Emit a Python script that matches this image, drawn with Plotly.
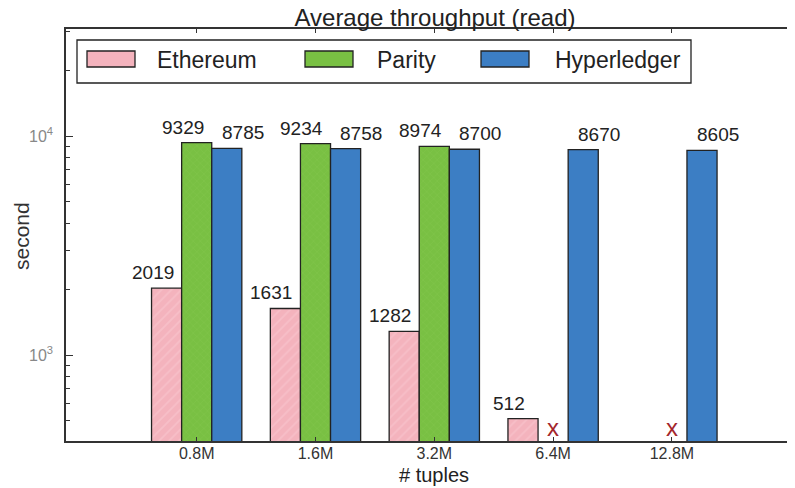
import numpy as np
import plotly.graph_objects as go

categories = ["0.8M", "1.6M", "3.2M", "6.4M", "12.8M"]
ethereum = [2019, 1631, 1282, 512, None]
parity = [9329, 9234, 8974, None, None]
hyperledger = [8785, 8758, 8700, 8670, 8605]
failed_parity = ["6.4M", "12.8M"]
series_names = ["Ethereum", "Parity", "Hyperledger"]
colors = ["#f4b3bd", "#79c043", "#3c7ec4"]
y_range_vals = [405, 30800]

OFF = 8  # page body margin
W, H = 795 - OFF, 488 - OFF
L, R, T, B = 66 - OFF, 0, 29 - OFF, 488 - 441
PW, PH = W - L - R, H - T - B

def px_x(px):
    return (px - OFF - L) / PW

def px_y(py):
    return (H - B - (py - OFF)) / PH

FONT = "Liberation Sans, Arial"
fig = go.Figure()
patterns = [
    dict(shape="/", fgcolor="#f9cad2", size=7, solidity=0.25),
    dict(shape="x", fgcolor="#8fcc5c", size=5, solidity=0.15),
    dict(shape=""),
]
for name, vals, col, pat in zip(series_names, [ethereum, parity, hyperledger], colors, patterns):
    fig.add_trace(go.Bar(
        x=categories, y=vals, name=name,
        marker=dict(color=col, line=dict(color="#222", width=1.3), pattern=pat),
        showlegend=False,
    ))

# value labels
shifts = [-44, -14, 46]
for vals, xs in zip([ethereum, parity, hyperledger], shifts):
    for c, v in zip(categories, vals):
        if v is None:
            continue
        fig.add_annotation(x=c, y=np.log10(v), text=str(v), showarrow=False,
                           xshift=xs, yshift=3, yanchor="bottom",
                           font=dict(size=19, color="#222", family=FONT))

# failure markers
for c in failed_parity:
    fig.add_annotation(x=c, y=np.log10(y_range_vals[0]), text="x", showarrow=False,
                       yanchor="bottom", yshift=-2,
                       font=dict(size=24, color="#a3262c", family=FONT))

# custom legend
fig.add_shape(type="rect", xref="paper", yref="paper",
              x0=px_x(77), x1=px_x(691), y0=px_y(83), y1=px_y(40),
              line=dict(color="#222", width=1.3), fillcolor="white", layer="above")
sw_x = [87, 305, 481]
tx_x = [155, 375, 553]
for name, col, sx, tx in zip(series_names, colors, sw_x, tx_x):
    fig.add_shape(type="rect", xref="paper", yref="paper",
                  x0=px_x(sx), x1=px_x(sx + 48), y0=px_y(67), y1=px_y(51),
                  line=dict(color="#222", width=1.3), fillcolor=col, layer="above")
    fig.add_annotation(xref="paper", yref="paper", x=px_x(tx), y=px_y(60), text=name,
                       showarrow=False, xanchor="left", yanchor="middle",
                       font=dict(size=23, color="#222", family=FONT))

# axis titles
fig.add_annotation(xref="paper", yref="paper", x=px_x(21), y=px_y(236), text="second",
                   textangle=-90, showarrow=False, xanchor="center", yanchor="middle",
                   font=dict(size=21, color="#333", family=FONT))
fig.add_annotation(xref="paper", yref="paper", x=px_x(434), y=px_y(475), text="# tuples",
                   showarrow=False, xanchor="center", yanchor="middle",
                   font=dict(size=20, color="#222", family=FONT))

minor_vals = [m * 10 ** e for e in (2, 3, 4) for m in range(2, 10)]
fig.update_layout(
    width=W, height=H,
    margin=dict(l=L, r=R, t=T, b=B),
    plot_bgcolor="white", paper_bgcolor="white",
    barmode="group", bargap=0.24, bargroupgap=0,
    title=dict(text="Average throughput (read)", x=px_x(435), xref="paper", xanchor="center",
               y=1 - (18 - OFF) / H, yref="container", yanchor="middle",
               font=dict(size=24, color="#222", family=FONT)),
    xaxis=dict(type="category", range=[-1.10, 5.036], showline=True, linecolor="#333", linewidth=1.5,
               mirror="ticks", ticks="inside", ticklen=4, tickcolor="#333", tickwidth=1.2,
               ticklabelstandoff=-3,
               showgrid=False, zeroline=False,
               tickfont=dict(size=16, color="#333", family=FONT)),
    yaxis=dict(type="log", range=[np.log10(y_range_vals[0]), np.log10(y_range_vals[1])],
               showline=True, linecolor="#333", linewidth=1.5, mirror=False,
               ticks="inside", ticklen=7, tickcolor="#333", tickwidth=1.2,
               tickmode="array", tickvals=[1000, 10000],
               ticktext=["10<sup>3</sup>", "10<sup>4</sup>"],
               ticklabelstandoff=8,
               minor=dict(ticks="inside", ticklen=4, tickcolor="#333", tickwidth=1,
                          tickmode="array", tickvals=minor_vals, showgrid=False),
               showgrid=False, zeroline=False,
               tickfont=dict(size=16, color="#888", family=FONT)),
)

fig.write_html("out.html")
